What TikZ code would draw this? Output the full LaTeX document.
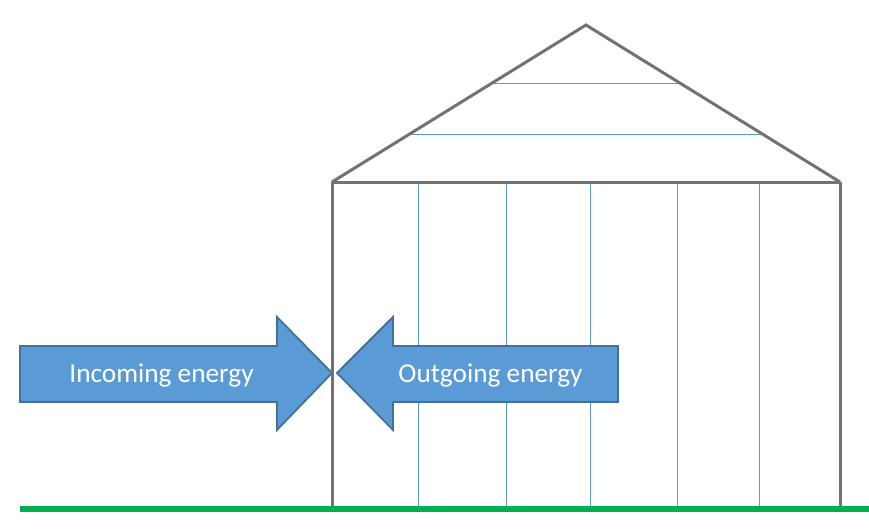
\documentclass[tikz,border=0pt]{standalone}
\usepackage{fontspec}
\setmainfont{Carlito}
\usetikzlibrary{calc}
\definecolor{wallgray}{HTML}{767171}
\definecolor{lineblue}{HTML}{5B9BD5}
\definecolor{arrowfill}{HTML}{5B9BD5}
\definecolor{arrowedge}{HTML}{41719C}
\definecolor{groundgreen}{HTML}{00B050}
\begin{document}
\begin{tikzpicture}[x=1pt,y=-1pt,
  wall/.style={draw=wallgray,line width=3pt},
  batten/.style={draw=lineblue,line width=0.9pt},
  bigarrow/.style={fill=arrowfill,draw=arrowedge,line width=1.8pt,line join=miter},
  arrowtext/.style={text=white,font=\fontsize{27.3}{30}\selectfont,inner sep=0pt,anchor=base}]
\useasboundingbox (0,0) rectangle (869,528);
% coordinates of the house
\coordinate (apex) at (586,25);
\coordinate (eaveL) at (332,182);
\coordinate (eaveR) at (840,182);
\coordinate (footL) at (332,508);
\coordinate (footR) at (840,508);
% roof battens
\draw[batten] ($(eaveL)!0.627!(apex)$) coordinate (r1l) -- ($(eaveR)!0.627!(apex)$) coordinate (r1r);
\draw[batten] ($(eaveL)!0.30!(apex)$) coordinate (r2l) -- ($(eaveR)!0.30!(apex)$) coordinate (r2r);
% wall battens
\foreach \xx in {418,506,590,677,759}{
  \draw[batten] (\xx,182) -- (\xx,508);
}
% arrows
\draw[bigarrow] (20,346) -- (277,346) -- (277,317) -- (332,373) -- (277,430) -- (277,402) -- (20,402) -- cycle;
\draw[bigarrow] (618,346) -- (393,346) -- (393,317) -- (337,373) -- (393,430) -- (393,402) -- (618,402) -- cycle;
\node[arrowtext] (inc) at (161.5,382) {Incoming energy};
\node[arrowtext] (out) at (490.5,382) {Outgoing energy};
% house outline
\draw[wall,line join=miter] (eaveL) -- (apex) -- (eaveR);
\draw[wall] (eaveL) -- (eaveR);
\draw[wall] (eaveL) -- (footL);
\draw[wall] (eaveR) -- (footR);
% ground
\coordinate (g1) at (20,509);
\coordinate (g2) at (869,509);
\draw[groundgreen,line width=6pt] (g1) -- (g2);
\end{tikzpicture}
\end{document}
